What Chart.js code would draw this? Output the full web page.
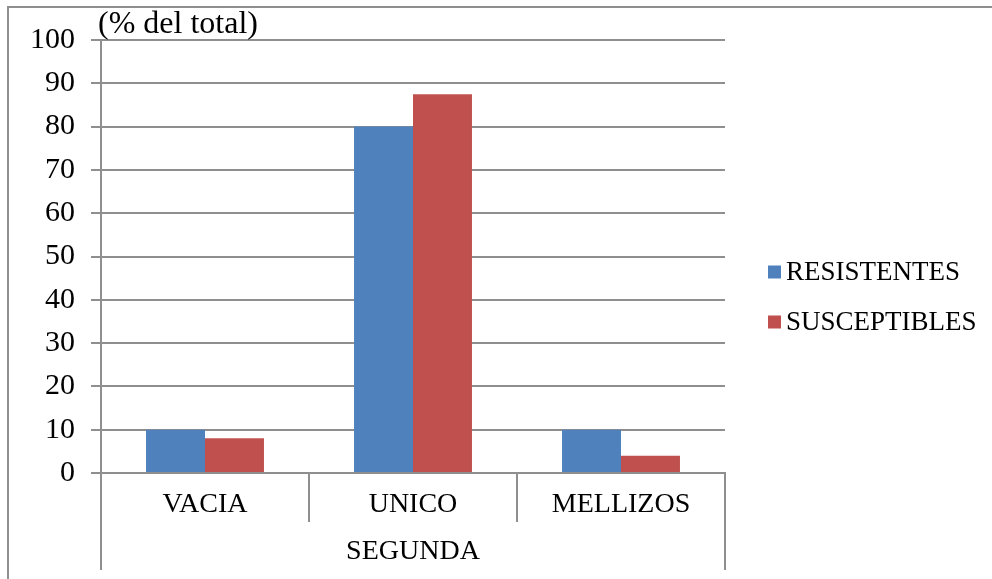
<!DOCTYPE html>
<html>
<head>
<meta charset="utf-8">
<script src="https://cdn.jsdelivr.net/npm/chart.js@4/dist/chart.umd.min.js"></script>
<style>
  html, body { margin: 0; padding: 0; background: #fff; }
  #wrap { width: 992px; height: 579px; position: relative; }
</style>
</head>
<body>
<div id="wrap"><canvas id="c" width="992" height="579"></canvas></div>
<script>
// Categories and series
const categories = ['VACIA', 'UNICO', 'MELLIZOS'];
const groupLabel = 'SEGUNDA';
const resistentes = [10, 80, 10];
const susceptibles = [8, 87.5, 4];
const seriesNames = ['RESISTENTES', 'SUSCEPTIBLES'];
const yTitle = '(% del total)';
const yMin = 0, yMax = 100, yStep = 10;

const SERIF = '"Liberation Serif", "Times New Roman", serif';
const GRID = '#8f8f8f';

// Frame, axis title, side legend and outer category boundary lines
const decor = {
  id: 'decor',
  beforeDraw(chart) {
    const ctx = chart.ctx;
    ctx.save();
    ctx.fillStyle = '#fff';
    ctx.fillRect(0, 0, chart.width, chart.height);
    ctx.strokeStyle = GRID;
    ctx.lineWidth = 2;
    ctx.strokeRect(8, 7, chart.width + 20, chart.height + 20);
    ctx.restore();
  },
  afterDraw(chart) {
    const ctx = chart.ctx;
    const area = chart.chartArea;
    ctx.save();
    // y-axis title above the axis
    ctx.fillStyle = '#000';
    ctx.font = '32px ' + SERIF;
    ctx.textAlign = 'left';
    ctx.textBaseline = 'alphabetic';
    ctx.fillText(yTitle, 98, 33);

    // outer boundary lines enclosing the group label
    ctx.strokeStyle = GRID;
    ctx.lineWidth = 2;
    ctx.beginPath();
    ctx.moveTo(area.left, area.bottom);
    ctx.lineTo(area.left, 570);
    ctx.moveTo(area.right, area.bottom);
    ctx.lineTo(area.right, 570);
    ctx.stroke();

    // legend
    ctx.font = '27px ' + SERIF;
    ctx.textBaseline = 'middle';
    chart.data.datasets.forEach((ds, i) => {
      const cy = 272 + i * 50;
      ctx.fillStyle = ds.backgroundColor;
      ctx.fillRect(768, cy - 6.5, 13, 13);
      ctx.fillStyle = '#000';
      ctx.fillText(ds.label, 786, cy + 1);
    });
    ctx.restore();
  }
};

new Chart(document.getElementById('c'), {
  type: 'bar',
  data: {
    labels: categories,
    datasets: [
      { label: seriesNames[0], data: resistentes, backgroundColor: '#4F81BD',
        categoryPercentage: 0.567, barPercentage: 1.0 },
      { label: seriesNames[1], data: susceptibles, backgroundColor: '#C0504D',
        categoryPercentage: 0.567, barPercentage: 1.0 }
    ]
  },
  options: {
    responsive: false,
    animation: false,
    devicePixelRatio: 1,
    layout: { padding: { top: 40, right: 267, left: 0, bottom: 0 } },
    plugins: {
      legend: { display: false },
      tooltip: { enabled: false },
      title: { display: false }
    },
    scales: {
      x: {
        offset: true,
        grid: {
          display: true, offset: true, drawOnChartArea: false, drawTicks: true,
          tickLength: 49, color: GRID, lineWidth: 2
        },
        border: { display: true, color: GRID, width: 2 },
        ticks: {
          color: '#000', font: { family: SERIF, size: 28 }, padding: -34,
          maxRotation: 0, autoSkip: false
        },
        title: {
          display: true, text: groupLabel, color: '#000',
          font: { family: SERIF, size: 28 }, padding: { top: 0, bottom: 11 }
        },
        afterFit(scale) { scale.height = 106; }
      },
      y: {
        min: yMin, max: yMax,
        grid: { color: GRID, lineWidth: 2, tickLength: 10, drawTicks: true },
        border: { display: true, color: GRID, width: 2 },
        ticks: {
          stepSize: yStep, color: '#000', font: { family: SERIF, size: 30 }, padding: 16
        },
        afterFit(scale) { scale.width = 101; }
      }
    }
  },
  plugins: [decor]
});
</script>
</body>
</html>
